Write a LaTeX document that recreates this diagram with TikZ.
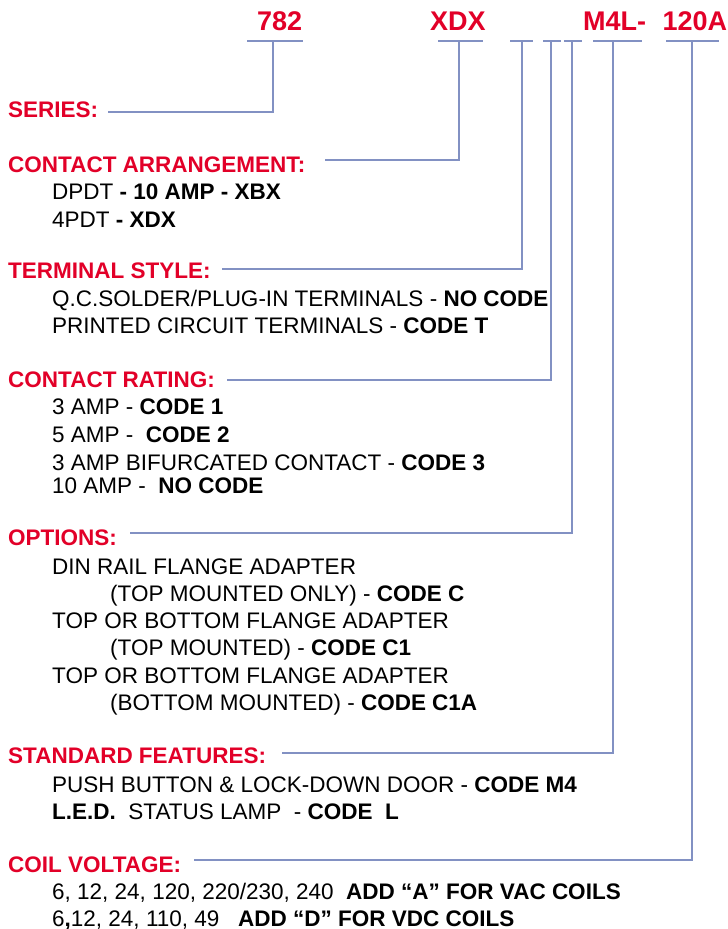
\documentclass[tikz,border=0pt]{standalone}
\usepackage{fontspec}
\setmainfont{Liberation Sans}
\definecolor{hred}{RGB}{226,0,40}
\definecolor{lblue}{RGB}{130,145,195}
\begin{document}
\begin{tikzpicture}[x=1pt,y=-1pt,
  head/.style={anchor=base west,inner sep=0pt,text=hred,font=\fontsize{22.5}{26}\selectfont\bfseries},
  top/.style={anchor=base west,inner sep=0pt,text=hred,font=\fontsize{27}{32}\selectfont\bfseries},
  item/.style={anchor=base west,inner sep=0pt,font=\fontsize{22.5}{26}\selectfont},
  conn/.style={draw=lblue,line width=1.5pt},
  bar/.style={draw=lblue,line width=1.5pt}]
\useasboundingbox (0,0) rectangle (728,929);
% top code labels
\node[top] (c782) at (257,30) {782};
\node[top] (cxdx) at (430,30) {XDX};
\node[top] (cm4l) at (583,30) {M4L-};
\node[top] (c120) at (662.5,30) {120A};
% top bars
\foreach \n/\a/\b/\m in {b1/247/303/273, b2/438/483/459, b3/510/533/522, b4/543/561/551, b5/564/582/572, b6/593/642/613, b7/666/719/692}{
  \draw[bar] (\a,41) -- (\b,41);
  \coordinate (\n) at (\m,41);
}
% headings
\node[head] (hser) at (8,117) {SERIES:};
\node[head] (hcar) at (8,172) {CONTACT ARRANGEMENT:};
\node[head] (hter) at (8,278) {TERMINAL STYLE:};
\node[head] (hrat) at (8,387) {CONTACT RATING:};
\node[head] (hopt) at (8,545) {OPTIONS:};
\node[head] (hstd) at (8,763) {STANDARD FEATURES:};
\node[head] (hcoil) at (8,872) {COIL VOLTAGE:};
% connector start points
\coordinate (sser) at (108,112);
\coordinate (scar) at (325,160);
\coordinate (ster) at (222,269);
\coordinate (srat) at (227,380);
\coordinate (sopt) at (130,533);
\coordinate (sstd) at (282,753);
\coordinate (scoil) at (194,860);
\draw[conn] (sser) -| (b1);
\draw[conn] (scar) -| (b2);
\draw[conn] (ster) -| (b3);
\draw[conn] (srat) -| (b4);
\draw[conn] (sopt) -| (b5);
\draw[conn] (sstd) -| (b6);
\draw[conn] (scoil) -| (b7);
% items
\node[item] (i1) at (52,199) {DPDT\textbf{ - 10 AMP - XBX}};
\node[item] (i2) at (52,227) {4PDT\textbf{ - XDX}};
\node[item] (i3) at (52,306) {Q.C.SOLDER/PLUG-IN TERMINALS - \textbf{NO CODE}};
\node[item] (i4) at (52,333) {PRINTED CIRCUIT TERMINALS - \textbf{CODE T}};
\node[item] (i5) at (52,414) {3 AMP - \textbf{CODE 1}};
\node[item] (i6) at (52,442) {5 AMP -\ \ \textbf{CODE 2}};
\node[item] (i7) at (52,470) {3 AMP BIFURCATED CONTACT - \textbf{CODE 3}};
\node[item] (i8) at (52,493) {10 AMP -\ \ \textbf{NO CODE}};
\node[item] (i9) at (52,574) {DIN RAIL FLANGE ADAPTER};
\node[item] (i10) at (110,601) {(TOP MOUNTED ONLY) - \textbf{CODE C}};
\node[item] (i11) at (52,628) {TOP OR BOTTOM FLANGE ADAPTER};
\node[item] (i12) at (110,655) {(TOP MOUNTED) - \textbf{CODE C1}};
\node[item] (i13) at (52,683) {TOP OR BOTTOM FLANGE ADAPTER};
\node[item] (i14) at (110,710) {(BOTTOM MOUNTED) - \textbf{CODE C1A}};
\node[item] (i15) at (52,792) {PUSH BUTTON \& LOCK-DOWN DOOR - \textbf{CODE M4}};
\node[item] (i16) at (52,819) {\textbf{L.E.D.}\ \ STATUS LAMP\ \ - \textbf{CODE\ \ L}};
\node[item] (i17) at (52,899) {6, 12, 24, 120, 220/230, 240\ \ \textbf{ADD “A” FOR VAC COILS}};
\node[item] (i18) at (52,926) {6\textbf{,}12, 24, 110, 49\ \ \ \textbf{ADD “D” FOR VDC COILS}};
\end{tikzpicture}
\end{document}
